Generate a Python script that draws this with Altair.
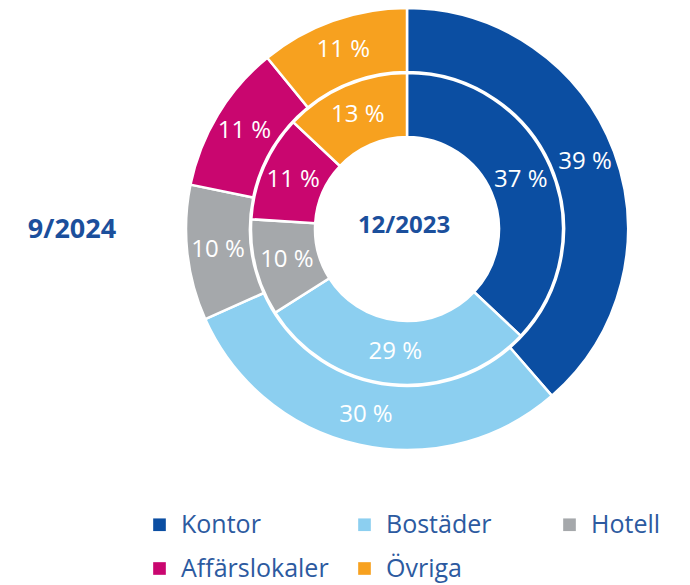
import altair as alt
import pandas as pd

categories = ["Kontor", "Bostäder", "Hotell", "Affärslokaler", "Övriga"]
outer_2024 = [39, 30, 10, 11, 11]
inner_2023 = [37, 29, 10, 11, 13]
colors = ["#0b4ea2", "#8ccff0", "#a5a8ab", "#c9066f", "#f7a11f"]
outer_label = "9/2024"
inner_label = "12/2023"

FONT = "Open Sans"
CX, CY = 399, 221

def ring_df(vals):
    return pd.DataFrame({
        "cat": categories,
        "value": vals,
        "idx": list(range(len(categories))),
        "label": [f"{v} %" for v in vals],
    })

df_out = ring_df(outer_2024)
df_in = ring_df(inner_2023)

color = alt.Color(
    "cat:N",
    sort=categories,
    scale=alt.Scale(domain=categories, range=colors),
    legend=alt.Legend(
        title=None, orient="none", legendX=139, legendY=504, columns=3,
        direction="horizontal",
        symbolType="square", symbolSize=160, symbolStrokeWidth=0,
        labelFont=FONT, labelFontSize=25, labelColor="#2c5aa0",
        labelOffset=9, rowPadding=18, columnPadding=23, gridAlign="all",
        labelLimit=300,
    ),
)

theta = alt.Theta("value:Q", stack="normalize")
order = alt.Order("idx:Q")

outer = alt.Chart(df_out).mark_arc(
    outerRadius=221, innerRadius=157, stroke="white", strokeWidth=2.5
).encode(theta=theta, order=order, color=color, x=alt.value(CX), y=alt.value(CY))

inner = alt.Chart(df_in).mark_arc(
    outerRadius=156, innerRadius=92, stroke="white", strokeWidth=2.5
).encode(theta=theta, order=order, color=color, x=alt.value(CX), y=alt.value(CY))

outer_txt = alt.Chart(df_out).mark_text(
    radius=190, font=FONT, fontSize=24, color="white"
).encode(theta=theta, order=order, text="label:N", x=alt.value(CX), y=alt.value(CY))

inner_txt = alt.Chart(df_in).mark_text(
    radius=124, font=FONT, fontSize=24, color="white"
).encode(theta=theta, order=order, text="label:N", x=alt.value(CX), y=alt.value(CY))

center_txt = alt.Chart(pd.DataFrame({"t": [inner_label]})).mark_text(
    font=FONT, fontSize=24, fontWeight="bold", color="#1b4f9c"
).encode(text="t:N", x=alt.value(CX - 3), y=alt.value(CY - 3))

left_txt = alt.Chart(pd.DataFrame({"t": [outer_label]})).mark_text(
    font=FONT, fontSize=27, fontWeight="bold", color="#1b4f9c"
).encode(text="t:N", x=alt.value(64), y=alt.value(CY + 1))

chart = alt.layer(outer, inner, outer_txt, inner_txt, center_txt, left_txt).properties(
    width=674, height=576, autosize=alt.AutoSizeParams(type="none"), padding=0
).configure_view(stroke=None)

chart.save("out.html", embed_options={"renderer": "svg", "actions": False})
